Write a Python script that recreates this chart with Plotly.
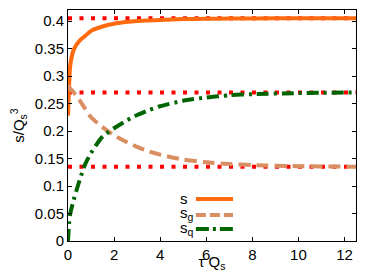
import plotly.graph_objects as go

t = [0, 0.05, 0.1, 0.25, 0.5, 0.75, 1, 1.5, 2, 2.5, 3, 3.5, 4, 5, 6, 7, 8, 10, 12.5]
s_tot = [0.228, 0.285, 0.32, 0.348, 0.364, 0.373, 0.382, 0.39, 0.395, 0.398, 0.400, 0.401, 0.402, 0.4035, 0.404, 0.4045, 0.4047, 0.405, 0.405]
s_g = [0.283, 0.280, 0.277, 0.27, 0.256, 0.24, 0.225, 0.207, 0.192, 0.181, 0.171, 0.163, 0.157, 0.148, 0.143, 0.140, 0.138, 0.136, 0.135]
s_q = [0.0, 0.033, 0.05, 0.075, 0.11, 0.14, 0.16, 0.19, 0.205, 0.218, 0.229, 0.238, 0.245, 0.255, 0.261, 0.265, 0.267, 0.269, 0.27]
ref_levels = [0.405, 0.27, 0.135]
x_range = [0, 12.5]
y_range = [0, 0.42]
x_ticks = [0, 2, 4, 6, 8, 10, 12]
y_ticks = [0, 0.05, 0.1, 0.15, 0.2, 0.25, 0.3, 0.35, 0.4]
y_tick_text = ["0", "0.05", "0.1", "0.15", "0.2", "0.25", "0.3", "0.35", "0.4"]
legend_labels = ["s", "s<sub>g</sub>", "s<sub>q</sub>"]

C_S = "#ff6a0f"
C_G = "#d98e62"
C_Q = "#006400"
C_R = "#ff0000"
FONT = "Liberation Sans"

fig = go.Figure()
for lv in ref_levels:
    fig.add_trace(go.Scatter(x=x_range, y=[lv, lv], mode="lines",
                             line=dict(color=C_R, width=4, dash="4px,7.5px"),
                             showlegend=False, hoverinfo="skip"))
fig.add_trace(go.Scatter(x=t, y=s_tot, mode="lines", line=dict(color=C_S, width=4, shape="spline", smoothing=0.6), showlegend=False))
fig.add_trace(go.Scatter(x=t, y=s_g, mode="lines", line=dict(color=C_G, width=4, dash="12px,6px", shape="spline", smoothing=0.6), showlegend=False))
fig.add_trace(go.Scatter(x=t, y=s_q, mode="lines", line=dict(color=C_Q, width=4, dash="12px,5px,3px,5px", shape="spline", smoothing=0.6), showlegend=False))

# manual legend (gnuplot style: text, then sample)
text_rows = [0.182, 0.118, 0.052]
line_rows = [0.182, 0.113, 0.052]
styles = [dict(color=C_S, width=4), dict(color=C_G, width=4, dash="10px,4px"), dict(color=C_Q, width=4, dash="13px,4px,3px,4px")]
for lab, ty, ly, st in zip(legend_labels, text_rows, line_rows, styles):
    fig.add_annotation(x=0.383, y=ty, xref="paper", yref="paper", text=lab, showarrow=False,
                       xanchor="left", yanchor="middle", font=dict(size=15, color="black", family=FONT))
    fig.add_shape(type="line", xref="paper", yref="paper", x0=0.444, x1=0.573, y0=ly, y1=ly, line=st)

axis_common = dict(showgrid=False, zeroline=False, showline=True, linecolor="black", linewidth=1,
                   mirror="ticks", ticks="inside", ticklen=4, tickcolor="black",
                   tickfont=dict(size=15, color="black", family=FONT))
fig.update_xaxes(range=x_range, tickvals=x_ticks, ticktext=[str(v) for v in x_ticks],
                 title=dict(text="τ Q<sub>s</sub>", font=dict(size=15, color="black", family=FONT), standoff=1), **axis_common)
fig.update_yaxes(range=y_range, tickvals=y_ticks, ticktext=y_tick_text,
                 title=dict(text="s/Q<sub>s</sub><sup>3</sup>", font=dict(size=15, color="black", family=FONT), standoff=8), **axis_common)
# page body has an 8px margin; compensate so plot area lands at x 68..356, y 10..241 of the window
fig.update_layout(width=366, height=264, margin=dict(l=60, r=18, t=2, b=31, autoexpand=False),
                  plot_bgcolor="white", paper_bgcolor="white",
                  font=dict(family=FONT, size=15, color="black"))
fig.write_html("out.html")
